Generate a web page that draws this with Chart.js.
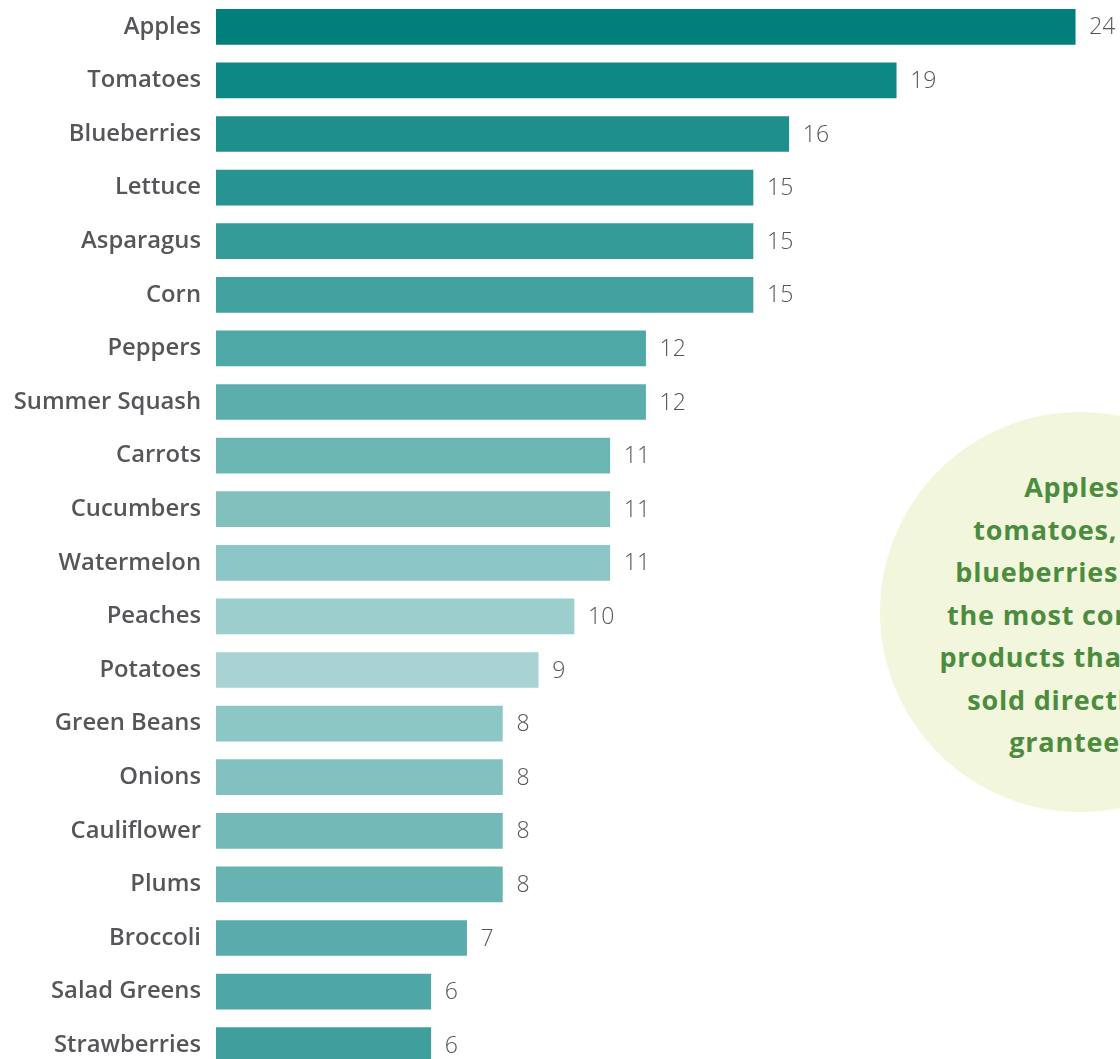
<!DOCTYPE html>
<html>
<head>
<meta charset="utf-8">
<script src="https://cdn.jsdelivr.net/npm/chart.js@4"></script>
<style>
  html, body { margin: 0; padding: 0; background: #fff; overflow: hidden; }
  #wrap { position: relative; width: 1120px; height: 1059px; overflow: hidden; }
  #bubble {
    position: absolute; left: 880px; top: 412px; width: 400px; height: 400px;
    border-radius: 50%; background: #f2f6dd;
  }
  #note {
    position: absolute; left: 926px; top: 466px; width: 300px;
    text-align: center; color: #4c8c3e; letter-spacing: 0.8px;
    font: 700 27px/42.5px "Open Sans", sans-serif;
  }
  canvas { position: absolute; left: 0; top: 0; }
</style>
</head>
<body>
<div id="wrap">
  <div id="bubble"></div>
  <div id="note">Apples,<br>tomatoes, and<br>blueberries were<br>the most common<br>products that were<br>sold directly by<br>grantees.</div>
  <canvas id="chart" width="1120" height="1072"></canvas>
</div>
<script>
const categories = ["Apples", "Tomatoes", "Blueberries", "Lettuce", "Asparagus", "Corn", "Peppers",
  "Summer Squash", "Carrots", "Cucumbers", "Watermelon", "Peaches", "Potatoes", "Green Beans",
  "Onions", "Cauliflower", "Plums", "Broccoli", "Salad Greens", "Strawberries"];
const grantees = [24, 19, 16, 15, 15, 15, 12, 12, 11, 11, 11, 10, 9, 8, 8, 8, 8, 7, 6, 6];

// bar shades, dark teal at the top fading out and back
const barColors = ["#007f7b", "#0d8884", "#1e8f8b", "#289492", "#349b98", "#41a19e", "#4ea8a6",
  "#5caeac", "#6bb5b3", "#82c0be", "#8dc6c6", "#9ccecd", "#a8d3d2", "#8cc6c5",
  "#82c1bf", "#73b9b7", "#66b3b1", "#5aabab", "#4ea6a6", "#409e9c"];

// numbers at the end of each bar
const valueLabels = {
  id: "valueLabels",
  afterDatasetsDraw(chart) {
    const ctx = chart.ctx;
    const meta = chart.getDatasetMeta(0);
    ctx.save();
    ctx.font = '300 23px "Open Sans", sans-serif';
    ctx.fillStyle = "#555558";
    ctx.textBaseline = "middle";
    meta.data.forEach((bar, i) => {
      ctx.fillText(grantees[i], bar.x + 14, bar.y + 1);
    });
    ctx.restore();
  }
};

new Chart(document.getElementById("chart"), {
  type: "bar",
  data: {
    labels: categories,
    datasets: [{
      data: grantees,
      backgroundColor: barColors,
      barThickness: 35
    }]
  },
  options: {
    indexAxis: "y",
    responsive: false,
    animation: false,
    devicePixelRatio: 1,
    layout: { padding: { top: 0, bottom: 0, left: 0, right: 9 } },
    plugins: { legend: { display: false }, tooltip: { enabled: false } },
    scales: {
      x: { display: false, min: 0, max: 25 },
      y: {
        grid: { display: false, drawTicks: false },
        border: { display: false },
        afterFit(scale) {
          scale.width = 216;
          scale.paddingTop = 0;
          scale.paddingBottom = 0;
        },
        ticks: {
          padding: 15,
          color: "#555659",
          font: { family: "'Open Sans', sans-serif", size: 23.8, weight: 600 }
        }
      }
    }
  },
  plugins: [valueLabels]
});
</script>
</body>
</html>
